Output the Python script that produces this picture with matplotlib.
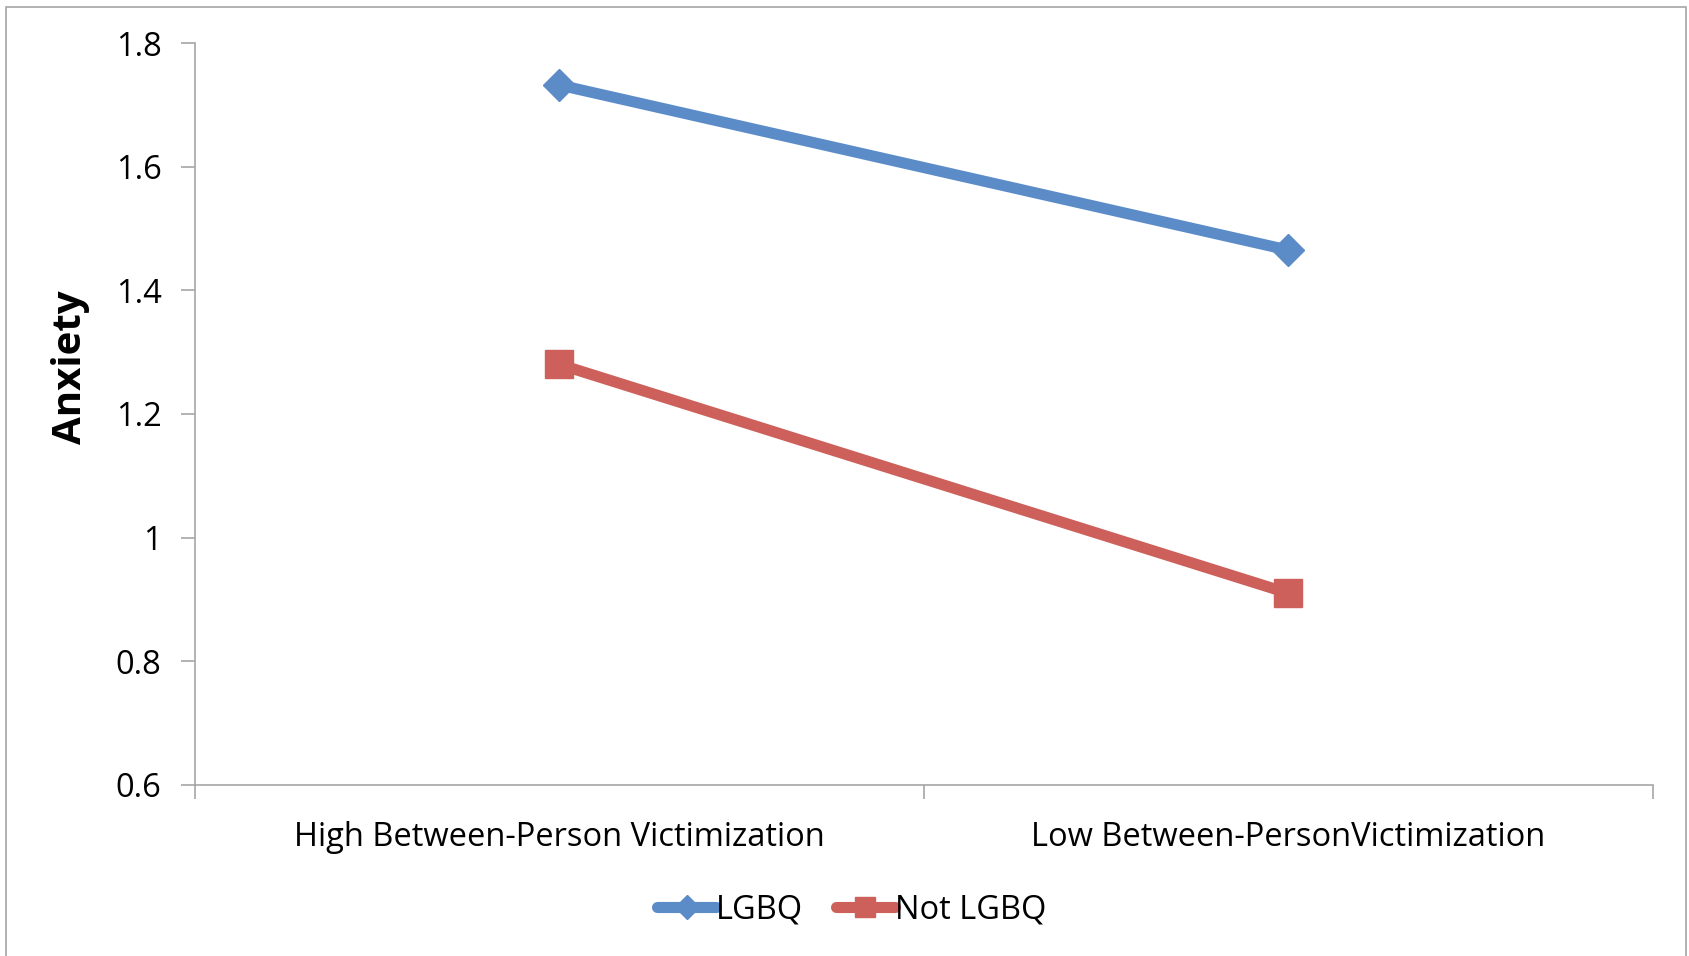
import matplotlib
matplotlib.use("Agg")
import matplotlib.pyplot as plt
from matplotlib.patches import Rectangle

# Data
categories = ["High Between-Person Victimization", "Low Between-PersonVictimization"]
series_names = ["LGBQ", "Not LGBQ"]
lgbq = [1.732, 1.465]
not_lgbq = [1.280, 0.910]
y_ticks = [0.6, 0.8, 1.0, 1.2, 1.4, 1.6, 1.8]
y_tick_labels = ["0.6", "0.8", "1", "1.2", "1.4", "1.6", "1.8"]

blue = "#5B8CC8"
red = "#CD605A"
axis_grey = "#A6A6A6"

plt.rcParams["font.family"] = ["Open Sans", "DejaVu Sans"]

fig = plt.figure(figsize=(16.9, 9.56), dpi=100)
ax = fig.add_axes([0.1154, 0.179, 0.978 - 0.1154, 0.955 - 0.179])

# chart-area border (Excel style)
fig.patches.append(Rectangle((6 / 1690, -0.01), 1 - 10 / 1690, 1 - 7 / 956 + 0.01,
                             transform=fig.transFigure, fill=False,
                             edgecolor=axis_grey, linewidth=1.2))

x = [0.5, 1.5]
ax.plot(x, lgbq, color=blue, linewidth=8, marker="D", markersize=16,
        markeredgecolor=blue, label=series_names[0], solid_capstyle="round")
ax.plot(x, not_lgbq, color=red, linewidth=8, marker="s", markersize=20,
        markeredgecolor=red, label=series_names[1], solid_capstyle="round")

ax.set_xlim(0, 2)
ax.set_ylim(0.6, 1.8)
ax.set_yticks(y_ticks)
ax.set_yticklabels(y_tick_labels)

ax.set_xticks([0, 1, 2])
ax.set_xticklabels([])
ax.set_xticks(x, minor=True)
ax.set_xticklabels(categories, minor=True)
ax.tick_params(axis="x", which="minor", length=0, pad=26, labelsize=23.5)
ax.tick_params(axis="x", which="major", length=10, color=axis_grey, width=1.2)
ax.tick_params(axis="y", length=10, color=axis_grey, width=1.2, labelsize=23.5, pad=14)

for side in ["top", "right"]:
    ax.spines[side].set_visible(False)
for side in ["left", "bottom"]:
    ax.spines[side].set_color(axis_grey)
    ax.spines[side].set_linewidth(1.2)

ax.set_ylabel("Anxiety", fontsize=29, fontweight="bold")
ax.yaxis.set_label_coords(-0.072, 0.5625)

fig.legend(loc="center", bbox_to_anchor=(0.504, 1 - 910 / 956), ncol=2, frameon=False,
           fontsize=23.5, handlelength=1.8, handletextpad=0.0, columnspacing=1.0,
           markerscale=0.75)

fig.savefig("out.png", dpi=100)
